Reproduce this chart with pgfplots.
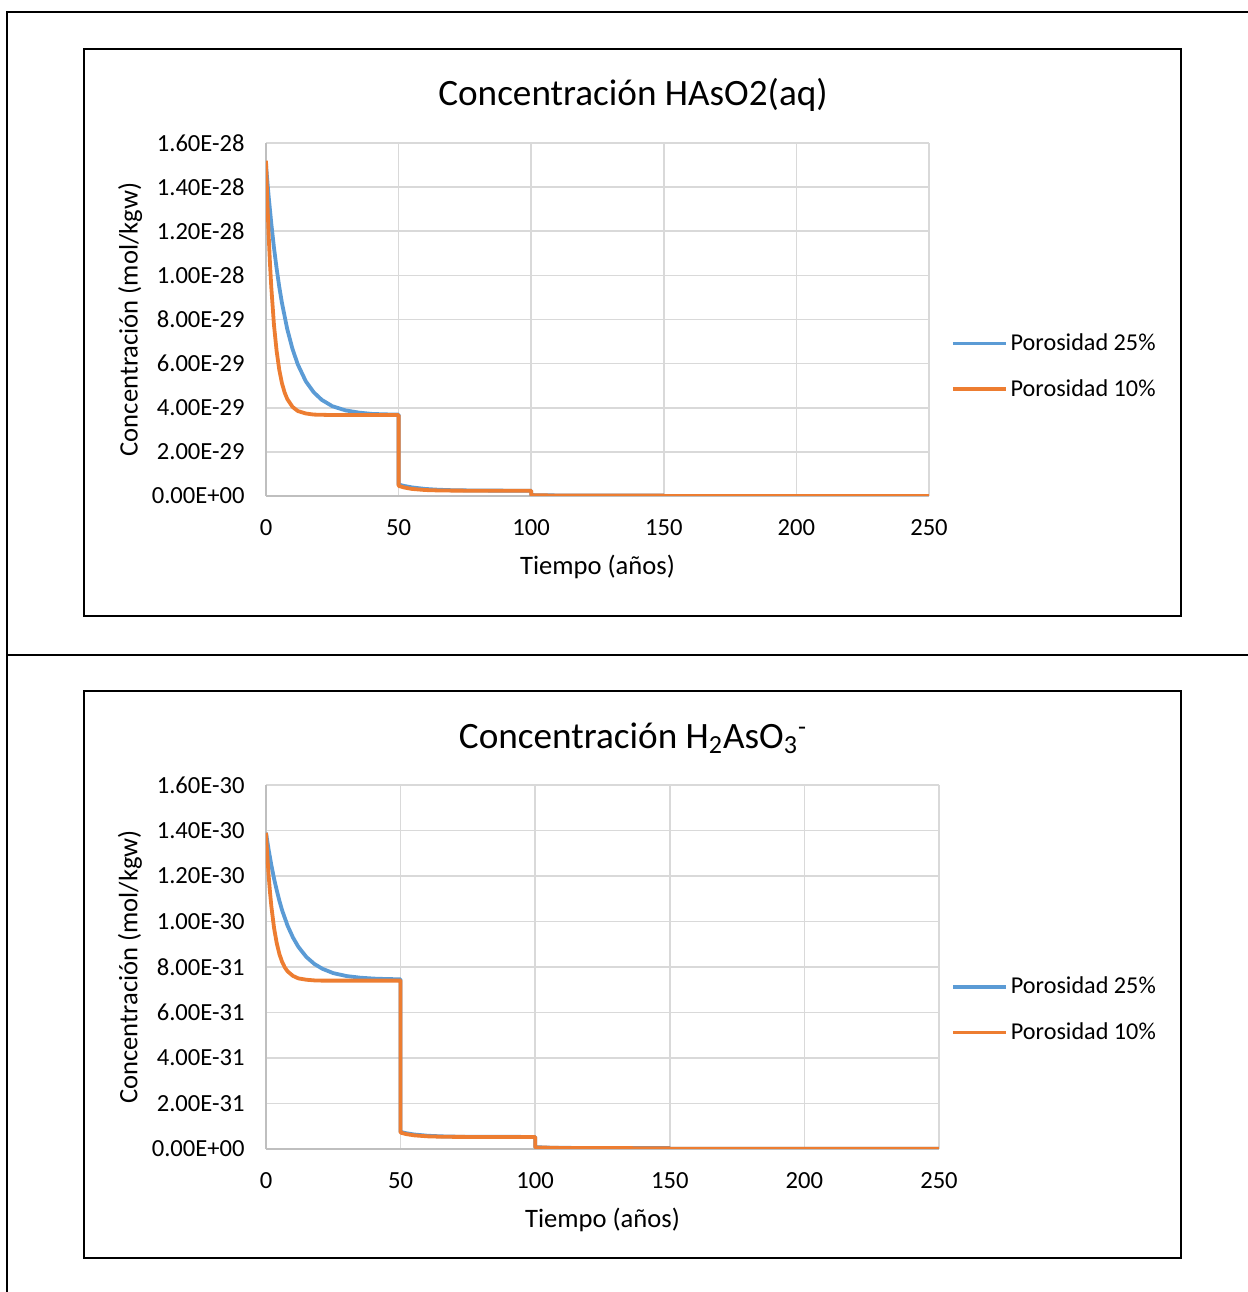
\documentclass[border=0pt]{standalone}
\usepackage{pgfplots}
\pgfplotsset{compat=1.18}
\usepackage{fontspec}
\setmainfont{Carlito}
\definecolor{sblue}{HTML}{5B9BD5}
\definecolor{sorange}{HTML}{ED7D31}
\definecolor{gridc}{HTML}{D9D9D9}
\definecolor{axc}{HTML}{BFBFBF}
\pgfplotsset{
  mystyle/.style={
    scale only axis,
    anchor=origin,
    xmin=0, xmax=250,
    ymin=0,
    xtick={0,50,100,150,200,250},
    grid=major,
    major grid style={color=gridc, line width=0.8pt},
    axis x line*=bottom, axis y line*=left,
    axis line style={color=axc, line width=0.9pt, -},
    major tick length=0pt,
    scaled y ticks=false,
    /pgf/number format/assume math mode=true,
    tick label style={font=\fontsize{12.3}{14}\selectfont, text=black},
    yticklabel style={inner sep=0pt, anchor=east, xshift=-10.5pt},
    xticklabel style={inner sep=0pt, anchor=north, yshift=-11.5pt},
    xlabel={Tiempo (años)},
    ylabel={Concentración (mol/kgw)},
    every axis x label/.style={at={(axis description cs:0.5,0)}, anchor=center, yshift=-35.5pt, font=\fontsize{13.3}{16}\selectfont},
    legend style={draw=none, fill=none, inner sep=0pt, anchor=west,
      font=\fontsize{12.1}{14}\selectfont, row sep=9.8pt,
      nodes={inner sep=1.5pt}},
    legend cell align=left,
    legend image code/.code={\draw[#1, line width=1.7pt] (0pt,0pt) -- (26.5pt,0pt);},
    every axis plot/.append style={line width=1.9pt, line join=round, mark=none},
  }
}
\begin{document}
\begin{tikzpicture}
\path[use as bounding box] (0pt,0pt) rectangle (624pt,646pt);
% outer table frame
\draw[line width=1pt] (3.5pt,0pt) -- (3.5pt,640pt) -- (624pt,640pt);
\draw[line width=1pt] (3.5pt,318.5pt) -- (624pt,318.5pt);
% chart boxes
\draw[line width=1.2pt] (42pt,338pt) rectangle (590.5pt,621.5pt);
\draw[line width=1.2pt] (42pt,17pt) rectangle (590.5pt,300.5pt);
% titles
\node[font=\fontsize{18.6}{21}\selectfont] at (316.5pt,598.5pt) {Concentración HAsO2(aq)};
\node[font=\fontsize{18.6}{21}\selectfont] at (316.5pt,277pt) {Concentración H\textsubscript{2}AsO\textsubscript{3}\textsuperscript{-}};

\begin{axis}[mystyle,
  at={(133pt,398pt)}, width=331.5pt, height=176.5pt,
  ymax=1.6e-28,
  ytick={0,2e-29,4e-29,6e-29,8e-29,1e-28,1.2e-28,1.4e-28,1.6e-28},
  yticklabels={0.00E+00,2.00E-29,4.00E-29,6.00E-29,8.00E-29,1.00E-28,1.20E-28,1.40E-28,1.60E-28},
  every axis y label/.style={at={(axis description cs:-0.205,0.5)}, anchor=center, rotate=90, font=\fontsize{13.3}{16}\selectfont},
  legend style={at={(axis description cs:1.033,0.367)}},
]
\addplot[color=sblue] coordinates {(0,1.500e-28)(1,1.358e-28)(2,1.235e-28)(3,1.126e-28)(4,1.032e-28)(5,9.48e-29)(6,8.76e-29)(8,7.57e-29)(10,6.66e-29)(12,5.96e-29)(15,5.20e-29)(18,4.70e-29)(21,4.36e-29)(25,4.07e-29)(30,3.88e-29)(35,3.78e-29)(40,3.72e-29)(45,3.70e-29)(50,3.69e-29)(50,5.2e-30)(52,4.58e-30)(55,3.90e-30)(60,3.20e-30)(65,2.83e-30)(70,2.63e-30)(80,2.46e-30)(90,2.42e-30)(100,2.41e-30)(100,4.0e-31)(110,2.5e-31)(120,2.0e-31)(150,1.8e-31)(150,3e-32)(200,2.5e-32)(250,2e-32)};
\addlegendentry{Porosidad 25\%}
\addplot[color=sorange] coordinates {(0,1.520e-28)(0.5,1.338e-28)(1,1.183e-28)(1.5,1.054e-28)(2,9.46e-29)(3,7.76e-29)(4,6.58e-29)(5,5.72e-29)(6,5.12e-29)(7,4.70e-29)(8,4.40e-29)(10,4.04e-29)(12,3.85e-29)(15,3.74e-29)(18,3.69e-29)(21,3.68e-29)(25,3.67e-29)(50,3.67e-29)(50,4.6e-30)(52,3.87e-30)(55,3.21e-30)(60,2.70e-30)(65,2.51e-30)(70,2.44e-30)(80,2.40e-30)(100,2.40e-30)(100,3.5e-31)(110,2.2e-31)(120,1.8e-31)(150,1.6e-31)(150,2.5e-32)(250,1.5e-32)};
\addlegendentry{Porosidad 10\%}
\end{axis}

\begin{axis}[mystyle,
  at={(133pt,71.5pt)}, width=336.5pt, height=182pt,
  ymax=1.6e-30,
  ytick={0,2e-31,4e-31,6e-31,8e-31,1e-30,1.2e-30,1.4e-30,1.6e-30},
  yticklabels={0.00E+00,2.00E-31,4.00E-31,6.00E-31,8.00E-31,1.00E-30,1.20E-30,1.40E-30,1.60E-30},
  every axis y label/.style={at={(axis description cs:-0.202,0.5)}, anchor=center, rotate=90, font=\fontsize{13.3}{16}\selectfont},
  legend style={at={(axis description cs:1.018,0.383)}},
]
\addplot[color=sblue] coordinates {(0,1.390e-30)(1,1.314e-30)(2,1.247e-30)(3,1.188e-30)(4,1.137e-30)(5,1.090e-30)(6,1.049e-30)(8,9.82e-31)(10,9.30e-31)(12,8.89e-31)(15,8.44e-31)(18,8.13e-31)(21,7.92e-31)(25,7.73e-31)(30,7.60e-31)(35,7.53e-31)(40,7.49e-31)(45,7.47e-31)(50,7.46e-31)(50,7.5e-32)(52,6.95e-32)(55,6.38e-32)(60,5.83e-32)(65,5.56e-32)(70,5.43e-32)(80,5.34e-32)(100,5.31e-32)(100,8e-33)(105,6e-33)(110,5e-33)(120,4.5e-33)(150,4e-33)(150,1e-33)(250,8e-34)};
\addlegendentry{Porosidad 25\%}
\addplot[color=sorange] coordinates {(0,1.390e-30)(0.5,1.287e-30)(1,1.200e-30)(1.5,1.127e-30)(2,1.066e-30)(3,9.71e-31)(4,9.04e-31)(5,8.56e-31)(6,8.22e-31)(7,7.98e-31)(8,7.81e-31)(10,7.61e-31)(12,7.50e-31)(15,7.44e-31)(18,7.41e-31)(21,7.40e-31)(50,7.40e-31)(50,7.2e-32)(52,6.57e-32)(55,6.00e-32)(60,5.56e-32)(65,5.39e-32)(70,5.33e-32)(80,5.30e-32)(100,5.30e-32)(100,7e-33)(110,4.5e-33)(120,4e-33)(150,3.5e-33)(150,8e-34)(250,6e-34)};
\addlegendentry{Porosidad 10\%}
\end{axis}
\end{tikzpicture}
\end{document}
